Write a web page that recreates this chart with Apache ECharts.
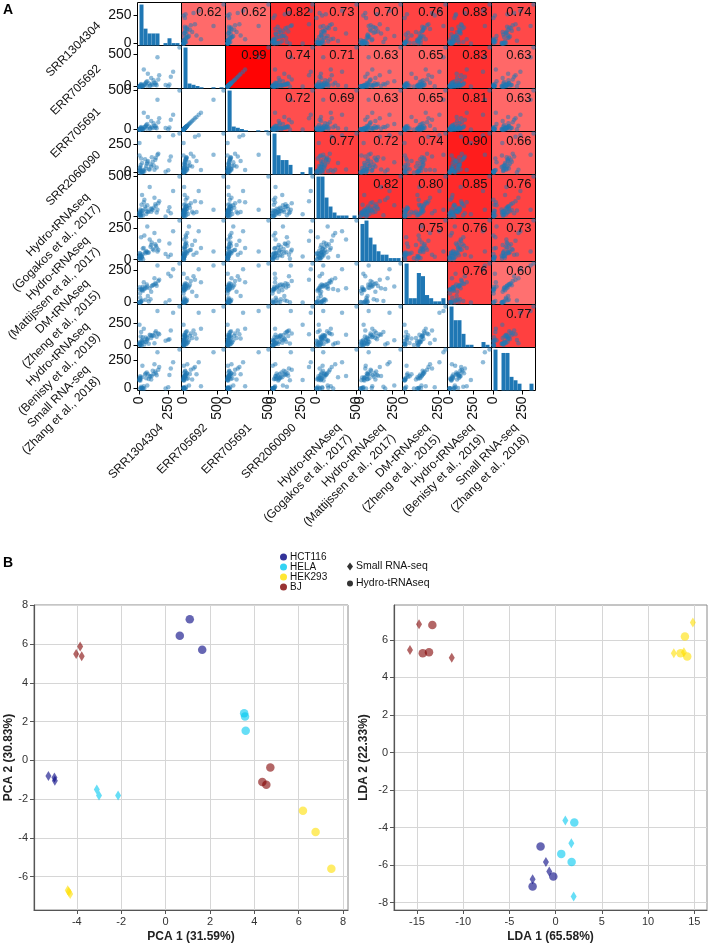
<!DOCTYPE html>
<html><head><meta charset="utf-8">
<script src="https://cdn.jsdelivr.net/npm/echarts@6/dist/echarts.min.js"></script>
<style>html,body{margin:0;padding:0;background:#fff}#c{width:709px;height:945px}</style>
</head><body><div id="c"></div>
<script>
// ---------- Panel A data ----------
const varNames = ['SRR1304304','ERR705692','ERR705691','SRR2060090',
  'Hydro-tRNAseq\n(Gogakos et al., 2017)','Hydro-tRNAseq\n(Mattijssen et al., 2017)',
  'DM-tRNAseq\n(Zheng et al., 2015)','Hydro-tRNAseq\n(Benisty et al., 2019)','Small RNA-seq\n(Zhang et al., 2018)'];
const tickSteps = [250,500,500,250,500,250,250,250,250];

const vSRR1304304 = [3,12,0,20,1,5,225,0,31,8,42,2,25,6,58,248,22,80,17,10,28,101,48,63,53,148,72,88,67,258,95,37,106,122,114,155,141,270,136,162,14,170,129,345,290];
const vERR705692  = [1,7,0,11,2,0,22,1,4,9,33,2,6,14,68,3,18,45,8,26,5,130,36,13,53,20,195,10,82,30,16,262,42,96,24,450,49,150,28,110,39,172,57,600,228];
const vERR705691  = [1,6,0,9,2,0,19,1,4,8,28,2,5,12,58,3,15,39,7,22,4,110,31,11,46,17,160,9,70,25,14,215,37,82,20,380,42,125,24,92,34,145,48,500,190];
const vSRR2060090 = [18,1,150,4,14,0,8,260,6,49,10,40,2,28,58,20,84,30,12,67,16,54,118,78,36,45,102,26,90,106,72,22,136,63,96,158,130,142,112,166,124,315,24,345,330];
const vGogakos    = [22,5,54,38,10,45,2,30,14,90,210,48,78,26,34,72,270,63,148,69,75,60,126,66,98,51,57,370,141,118,103,180,94,110,82,86,134,41,155,168,18,192,235,500,320];
const vMattijssen = [27,1,8,20,53,11,44,25,4,32,192,14,41,47,69,23,30,57,17,35,88,116,59,61,50,96,55,160,262,128,103,92,136,74,84,64,110,38,122,79,178,150,210,310,225];
const vZheng      = [102,5,3,99,2,70,1,0,93,0,105,120,15,38,114,225,96,9,108,7,123,85,117,141,22,132,52,111,126,18,26,158,129,138,135,290,145,205,150,168,12,178,190,305,260];
const vBenisty    = [8,2,23,0,14,5,53,230,45,17,11,35,61,29,38,65,32,20,49,100,92,82,41,73,88,96,77,120,57,69,112,185,104,108,116,380,156,165,140,132,148,125,26,430,360];
const vZhang      = [88,3,73,2,82,1,0,76,0,70,0,97,202,108,91,12,100,85,8,94,5,79,123,142,132,117,126,111,26,120,105,20,114,129,158,320,136,178,150,166,16,190,215,345,232];

// correlation values, upper triangle, row by row
const corrSRR1304304 = [0.62,0.62,0.82,0.73,0.70,0.76,0.83,0.74];
const corrERR705692  = [0.99,0.74,0.71,0.63,0.65,0.83,0.63];
const corrERR705691  = [0.72,0.69,0.63,0.65,0.81,0.63];
const corrSRR2060090 = [0.77,0.72,0.74,0.90,0.66];
const corrGogakos    = [0.82,0.80,0.85,0.76];
const corrMattijssen = [0.75,0.76,0.73];
const corrZheng      = [0.76,0.60];
const corrBenisty    = [0.77];

// ---------- Panel B data ----------
const sampleCell = ['HCT116','HCT116','HCT116','HELA','HELA','HELA','HEK293','HEK293','HEK293','BJ','BJ','BJ',
                    'HCT116','HCT116','HCT116','HELA','HELA','HELA','HEK293','HEK293','HEK293','BJ','BJ','BJ'];
const sampleMethod = ['Small RNA-seq','Small RNA-seq','Small RNA-seq','Small RNA-seq','Small RNA-seq','Small RNA-seq',
                      'Small RNA-seq','Small RNA-seq','Small RNA-seq','Small RNA-seq','Small RNA-seq','Small RNA-seq',
                      'Hydro-tRNAseq','Hydro-tRNAseq','Hydro-tRNAseq','Hydro-tRNAseq','Hydro-tRNAseq','Hydro-tRNAseq',
                      'Hydro-tRNAseq','Hydro-tRNAseq','Hydro-tRNAseq','Hydro-tRNAseq','Hydro-tRNAseq','Hydro-tRNAseq'];
const pca1 = [-5.28,-5.01,-4.99,-3.10,-3.00,-2.14,-4.41,-4.30,-4.36,-4.03,-3.85,-3.78,
              0.64,1.09,1.65,3.54,3.58,3.61,6.19,6.76,7.47,4.72,4.36,4.54];
const pca2 = [-0.81,-0.88,-1.05,-1.50,-1.81,-1.81,-6.70,-6.90,-6.78,5.49,5.88,5.37,
              6.43,7.29,5.71,2.43,2.26,1.53,-2.60,-3.70,-5.59,-0.36,-1.12,-1.26];
const lda1 = [-1.05,-0.69,-2.49,1.05,1.70,1.95,14.85,12.79,13.88,-14.78,-15.76,-11.24,
              -1.63,-0.25,-2.49,2.02,0.61,1.73,13.99,13.52,14.24,-13.34,-14.38,-13.70];
const lda2 = [-5.83,-6.34,-6.75,-3.62,-4.83,-7.67,6.93,5.29,5.34,6.84,5.46,5.05,
              -5.01,-6.61,-7.14,-3.73,-5.40,-5.83,6.18,5.29,5.11,6.80,5.29,5.34];
const cellLines = ['HCT116','HELA','HEK293','BJ'];
const methods = ['Small RNA-seq','Hydro-tRNAseq'];
const pcaXTicks = [-4,-2,0,2,4,6,8];
const pcaYTicks = [-6,-4,-2,0,2,4,6,8];
const ldaXTicks = [-15,-10,-5,0,5,10,15];
const ldaYTicks = [-8,-6,-4,-2,0,2,4,6];

// ---------- build ----------
const FONT = 'Liberation Sans';
const cellColor = {HCT116:'#000080', HELA:'#00c8f0', HEK293:'#ffe000', BJ:'#800000'};
const methodSymbol = {'Small RNA-seq':'diamond','Hydro-tRNAseq':'circle'};
const methodSize = {'Small RNA-seq':[6,10],'Hydro-tRNAseq':8.5};

const vars = [vSRR1304304,vERR705692,vERR705691,vSRR2060090,vGogakos,vMattijssen,vZheng,vBenisty,vZhang];
const corrRows = [corrSRR1304304,corrERR705692,corrERR705691,corrSRR2060090,corrGogakos,corrMattijssen,corrZheng,corrBenisty];
const NV = vars.length;
function padRange(a){const mn=Math.min(...a),mx=Math.max(...a),p=(mx-mn)*0.05;return [mn-p,mx+p];}
function hist(a){const mn=Math.min(...a),mx=Math.max(...a),w=(mx-mn)/10;const c=new Array(10).fill(0);
  a.forEach(v=>{let b=Math.floor((v-mn)/w);if(b>9)b=9;c[b]++;});return c.map((n,b)=>[mn+b*w,mn+(b+1)*w,n]);}
function corrColor(c){const g=Math.max(0,Math.round((1-c)*280));return 'rgb(255,'+g+','+g+')';}

const ranges = vars.map(padRange);
const A_L=137, A_R=535, A_T=2, A_B=390;
const colEdge = i => Math.round(A_L + i*(A_R-A_L)/NV)+0.5;
const rowEdge = i => Math.round(A_T + i*(A_B-A_T)/NV)+0.5;

const grid=[], xAxis=[], yAxis=[], series=[], graphic=[];
for(let i=0;i<NV;i++){
  for(let j=0;j<NV;j++){
    const k=i*NV+j;
    const l=colEdge(j), t=rowEdge(i), w=colEdge(j+1)-l, h=rowEdge(i+1)-t;
    grid.push({left:l, top:t, width:w, height:h, show:true, borderColor:'#000', borderWidth:1,
      backgroundColor: j>i ? corrColor(corrRows[i][j-i-1]) : '#fff'});
    xAxis.push({gridIndex:k, type:'value', min:ranges[j][0], max:ranges[j][1],
      splitLine:{show:false}, axisLine:{show:false,onZero:false},
      axisTick:{show:i===NV-1, customValues:[0,tickSteps[j]], length:4, lineStyle:{color:'#000'}},
      axisLabel:{show:i===NV-1, customValues:[0,tickSteps[j]], rotate:90, fontSize:14, fontFamily:FONT, color:'#111', margin:6}});
    yAxis.push({gridIndex:k, type:'value', min:ranges[i][0], max:ranges[i][1],
      splitLine:{show:false}, axisLine:{show:false,onZero:false},
      axisTick:{show:j===0, customValues:[0,tickSteps[i]], length:4, lineStyle:{color:'#000'}},
      axisLabel:{show:j===0, customValues:[0,tickSteps[i]], fontSize:14, fontFamily:FONT, color:'#111', margin:6}});
    if(i!==j){
      series.push({type:'scatter', xAxisIndex:k, yAxisIndex:k, symbolSize:4.5, silent:true,
        itemStyle:{color:'#1f77b4', opacity:0.5},
        data: vars[i].map((_,n)=>[vars[j][n], vars[i][n]])});
    }
    if(j>i){
      graphic.push({type:'text', x:colEdge(j+1)-4, y:t+3, z:100, silent:true,
        style:{text:corrRows[i][j-i-1].toFixed(2), fontSize:13, fontFamily:FONT, fill:'#111', align:'right', verticalAlign:'top'}});
    }
  }
}
// histogram count axes on the diagonal
for(let i=0;i<NV;i++){
  const k=i*NV+i, bins=hist(vars[i]);
  const maxC=Math.max(...bins.map(b=>b[2]));
  yAxis.push({gridIndex:k, type:'value', min:0, max:maxC*1.05, show:false, splitLine:{show:false}, axisLine:{onZero:false}});
  series.push({type:'custom', xAxisIndex:k, yAxisIndex:yAxis.length-1, silent:true, data:bins,
    encode:{x:[0,1], y:2},
    renderItem:(params,api)=>{const p0=api.coord([api.value(0),0]);const p1=api.coord([api.value(1),api.value(2)]);
      return {type:'rect', shape:{x:p0[0], y:p1[1], width:p1[0]-p0[0], height:p0[1]-p1[1]}, style:{fill:'#1f77b4'}};}});
}
// variable labels
for(let i=0;i<NV;i++){
  const nl=varNames[i].split('\n').length-1;
  const rc=(rowEdge(i)+rowEdge(i+1))/2, cc=(colEdge(i)+colEdge(i+1))/2;
  graphic.push({type:'text', x:99-nl*6, y:rc+nl*4, rotation:Math.PI/4, silent:true,
    style:{text:varNames[i], fontSize:12, fontFamily:FONT, fill:'#111', align:'right', verticalAlign:'middle', lineHeight:15}});
  graphic.push({type:'text', x:cc+2+nl*6, y:426+nl*5, rotation:Math.PI/4, silent:true,
    style:{text:varNames[i], fontSize:12, fontFamily:FONT, fill:'#111', align:'right', verticalAlign:'middle', lineHeight:15}});
}

// ---------- Panel B ----------
function addPlot(left, width, xr, yr, xt, yt, xs, ys, xName, yName, yGap){
  const gi=grid.length;
  grid.push({left:left, top:605, width:width, height:305, show:true, borderColor:'#8a8a8a', borderWidth:1, backgroundColor:'#fff'});
  const axisCommon = {type:'value', splitLine:{show:true, lineStyle:{color:'#d6d6d6', width:1}},
    axisLine:{show:true, onZero:false, lineStyle:{color:'#555', width:1.2}},
    nameTextStyle:{fontWeight:'bold', fontSize:12, fontFamily:FONT, color:'#222'}, nameLocation:'middle'};
  xAxis.push(Object.assign({}, axisCommon, {gridIndex:gi, min:xr[0], max:xr[1], name:xName, nameGap:21,
    axisTick:{show:true, customValues:xt, length:4, lineStyle:{color:'#555'}},
    axisLabel:{customValues:xt, fontSize:11, fontFamily:FONT, color:'#333', margin:6}}));
  yAxis.push(Object.assign({}, axisCommon, {gridIndex:gi, min:yr[0], max:yr[1], name:yName, nameGap:yGap,
    axisTick:{show:true, customValues:yt, length:4, lineStyle:{color:'#555'}},
    axisLabel:{customValues:yt, fontSize:11, fontFamily:FONT, color:'#333', margin:6}}));
  const xi=xAxis.length-1, yi=yAxis.length-1;
  methods.forEach(m=>cellLines.forEach(c=>{
    const d=[];
    for(let n=0;n<sampleCell.length;n++) if(sampleCell[n]===c && sampleMethod[n]===m) d.push([xs[n], ys[n]]);
    series.push({type:'scatter', name:c+' '+m, xAxisIndex:xi, yAxisIndex:yi, symbol:methodSymbol[m], symbolSize:methodSize[m],
      silent:true, itemStyle:{color:cellColor[c], opacity:0.6}, data:d});
  }));
  return [xi, yi];
}
const pAx = addPlot(34, 314, [-5.93,8.22], [-7.72,8.02], pcaXTicks, pcaYTicks, pca1, pca2, 'PCA 1 (31.59%)', 'PCA 2 (30.83%)', 19);
addPlot(394, 313, [-17.49,16.38], [-8.39,7.86], ldaXTicks, ldaYTicks, lda1, lda2, 'LDA 1 (65.58%)', 'LDA 2 (22.33%)', 24);
// legend-only series
cellLines.forEach(c=>series.push({type:'scatter', name:c, xAxisIndex:pAx[0], yAxisIndex:pAx[1], symbol:'circle', itemStyle:{color:cellColor[c]}, data:[]}));
methods.forEach(m=>series.push({type:'scatter', name:m, xAxisIndex:pAx[0], yAxisIndex:pAx[1], symbol:methodSymbol[m], itemStyle:{color:'#000'}, data:[]}));

const option = {
  animation:false,
  backgroundColor:'#fff',
  title:[
    {text:'A', left:3, top:3, padding:0, textStyle:{fontSize:14, fontWeight:'bold', fontFamily:FONT, color:'#000'}},
    {text:'B', left:3, top:556, padding:0, textStyle:{fontSize:14, fontWeight:'bold', fontFamily:FONT, color:'#000'}}
  ],
  legend:[
    {data:cellLines.map(c=>({name:c, icon:'circle'})), orient:'vertical', left:280, top:552, padding:0,
     itemWidth:7, itemHeight:7, itemGap:0, selectedMode:false,
     textStyle:{fontSize:10, fontFamily:FONT, color:'#111', lineHeight:9.5, padding:[0,0,0,-2]}},
    {data:[{name:'Small RNA-seq', icon:'diamond'},{name:'Hydro-tRNAseq', icon:'circle'}], orient:'vertical', left:347, top:561, padding:0,
     itemWidth:6, itemHeight:8, itemGap:6, selectedMode:false,
     textStyle:{fontSize:10.5, fontFamily:FONT, color:'#111', lineHeight:9, padding:[0,0,0,-2]}}
  ],
  grid, xAxis, yAxis, series, graphic
};
const chart = echarts.init(document.getElementById('c'));
chart.setOption(option);
</script></body></html>
